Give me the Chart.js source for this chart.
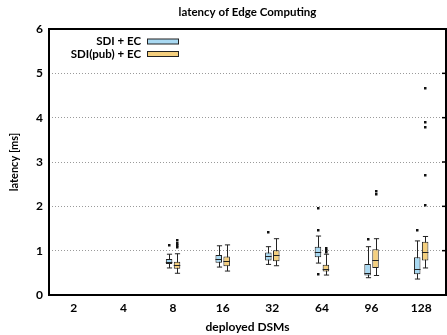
<!DOCTYPE html>
<html><head><meta charset="utf-8">
<script src="https://cdn.jsdelivr.net/npm/chart.js@4/dist/chart.umd.min.js"></script>
<style>html,body{margin:0;padding:0;background:#fff}#w{width:447px;height:335px}</style>
</head><body><div id="w"><canvas id="c" width="447" height="335"></canvas></div>
<script>
const categories = ['2','4','8','16','32','64','96','128'];
const seriesNames = ['SDI + EC', 'SDI(pub) + EC'];
const yTicks = [0,1,2,3,4,5,6];

const sdiMin = [null,null,0.61,0.63,0.69,0.72,0.39,0.36];
const sdiQ1  = [null,null,0.70,0.73,0.78,0.85,0.44,0.47];
const sdiMed = [null,null,0.75,0.82,0.87,0.98,0.49,0.59];
const sdiQ3  = [null,null,0.81,0.90,0.96,1.09,0.70,0.85];
const sdiMax = [null,null,0.92,1.11,1.09,1.33,1.09,1.22];
const sdiOut = [[],[],[1.13],[],[1.42],[1.97,1.46,0.47],[1.27],[1.46]];

const pubMin = [null,null,0.49,0.54,0.66,0.45,0.44,0.61];
const pubQ1  = [null,null,0.59,0.65,0.76,0.53,0.61,0.78];
const pubMed = [null,null,0.67,0.76,0.90,0.59,0.78,0.96];
const pubQ3  = [null,null,0.75,0.87,1.01,0.68,1.03,1.20];
const pubMax = [null,null,0.93,1.13,1.27,0.92,1.27,1.32];
const pubOut = [[],[],[1.08,1.13,1.18,1.24],[],[],[0.97,1.02,1.07],[2.27,2.35],[2.02,2.70,3.80,3.90,4.66]];

const FONT = 'Lato, "DejaVu Sans", sans-serif';
const stats = [
  {min:sdiMin,q1:sdiQ1,med:sdiMed,q3:sdiQ3,max:sdiMax,out:sdiOut},
  {min:pubMin,q1:pubQ1,med:pubMed,q3:pubQ3,max:pubMax,out:pubOut}
];
const fills = ['#a9d9f2','#f4cf7e'];

function boxData(q1,q3){ return q1.map((v,i)=> v==null ? null : [v,q3[i]]); }

const boxPlugin = {
  id:'boxPlugin',
  beforeDatasetsDraw(chart){
    const ctx = chart.ctx, y = chart.scales.y;
    ctx.save();
    ctx.strokeStyle = '#222'; ctx.lineWidth = 1;
    stats.forEach((s,di)=>{
      const meta = chart.getDatasetMeta(di);
      meta.data.forEach((bar,i)=>{
        if (s.min[i]==null) return;
        const x = Math.round(bar.x)+0.5, hw = bar.width*0.4;
        const yl = y.getPixelForValue(s.min[i]), yh = y.getPixelForValue(s.max[i]);
        ctx.beginPath();
        ctx.moveTo(x,yl); ctx.lineTo(x,yh);
        ctx.moveTo(x-hw,yl); ctx.lineTo(x+hw,yl);
        ctx.moveTo(x-hw,yh); ctx.lineTo(x+hw,yh);
        ctx.stroke();
      });
    });
    ctx.restore();
  },
  afterDatasetsDraw(chart){
    const ctx = chart.ctx, y = chart.scales.y, a = chart.chartArea;
    ctx.save();
    stats.forEach((s,di)=>{
      const meta = chart.getDatasetMeta(di);
      meta.data.forEach((bar,i)=>{
        const x = bar.x, hw = bar.width/2;
        if (s.med[i]!=null){
          const ym = Math.round(y.getPixelForValue(s.med[i]))+0.5;
          ctx.strokeStyle='#222'; ctx.lineWidth=1;
          ctx.beginPath(); ctx.moveTo(x-hw,ym); ctx.lineTo(x+hw,ym); ctx.stroke();
        }
        ctx.fillStyle='#111';
        s.out[i].forEach(v=>{
          const yp = y.getPixelForValue(v);
          ctx.fillRect(Math.round(x)-1, Math.round(yp)-1, 2.5, 2.5);
        });
      });
    });
    // frame
    ctx.strokeStyle='#000'; ctx.lineWidth=2;
    ctx.strokeRect(a.left, a.top, a.right-a.left, a.bottom-a.top);
    // inward ticks on right edge
    ctx.lineWidth=1.5;
    yTicks.forEach(v=>{
      const yp = y.getPixelForValue(v);
      ctx.beginPath(); ctx.moveTo(a.right-4,yp); ctx.lineTo(a.right,yp); ctx.stroke();
    });
    // legend
    ctx.font = 'bold 11.5px '+FONT; ctx.textAlign='right'; ctx.textBaseline='middle';
    const rows = [41.5, 54];
    seriesNames.forEach((n,k)=>{
      ctx.fillStyle='#000';
      ctx.fillText(n, 141, rows[k]);
      ctx.fillStyle=fills[k];
      ctx.fillRect(147.5, rows[k]-2.5, 31, 5);
      ctx.strokeStyle='#222'; ctx.lineWidth=1;
      ctx.strokeRect(147.5, rows[k]-2.5, 31, 5);
    });
    // title
    ctx.fillStyle='#000'; ctx.textAlign='center';
    ctx.font = 'bold 11.5px '+FONT;
    ctx.fillText('latency of Edge Computing', (a.left+a.right)/2, 12.5);
    ctx.restore();
  }
};

new Chart(document.getElementById('c'), {
  type:'bar',
  data:{
    labels: categories,
    datasets: stats.map((s,k)=>({
      label: seriesNames[k],
      data: boxData(s.q1,s.q3),
      backgroundColor: fills[k],
      borderColor:'#222',
      borderWidth:1,
      borderSkipped:false,
      categoryPercentage:0.32,
      barPercentage:0.82
    }))
  },
  options:{
    responsive:false, animation:false,
    layout:{padding:{top:29, right:1, left:0, bottom:0}},
    plugins:{legend:{display:false}, title:{display:false}, tooltip:{enabled:false}},
    scales:{
      x:{
        grid:{display:false, drawTicks:false},
        border:{display:false},
        ticks:{color:'#000', font:{family:FONT, size:12, weight:'bold'}, padding:6},
        title:{display:true, text:'deployed DSMs', color:'#000', font:{family:FONT, size:12, weight:'bold'}, padding:{top:2,bottom:1}},
        afterFit(s){ s.height = 40; }
      },
      y:{
        min:0, max:6,
        afterBuildTicks(s){ s.ticks = yTicks.map(v=>({value:v})); },
        grid:{drawTicks:false, color:(c)=> (c.tick && c.tick.value>0 && c.tick.value<6) ? '#9a9a9a' : 'rgba(0,0,0,0)', lineWidth:1},
        border:{display:false, dash:[1,2]},
        ticks:{color:'#000', font:{family:FONT, size:12, weight:'bold'}, padding:6},
        title:{display:true, text:'latency [ms]', color:'#000', font:{family:FONT, size:11, weight:'bold'}, padding:{top:8,bottom:0}},
        afterFit(s){ s.width = 49; }
      }
    }
  },
  plugins:[boxPlugin]
});
</script>
</body></html>
